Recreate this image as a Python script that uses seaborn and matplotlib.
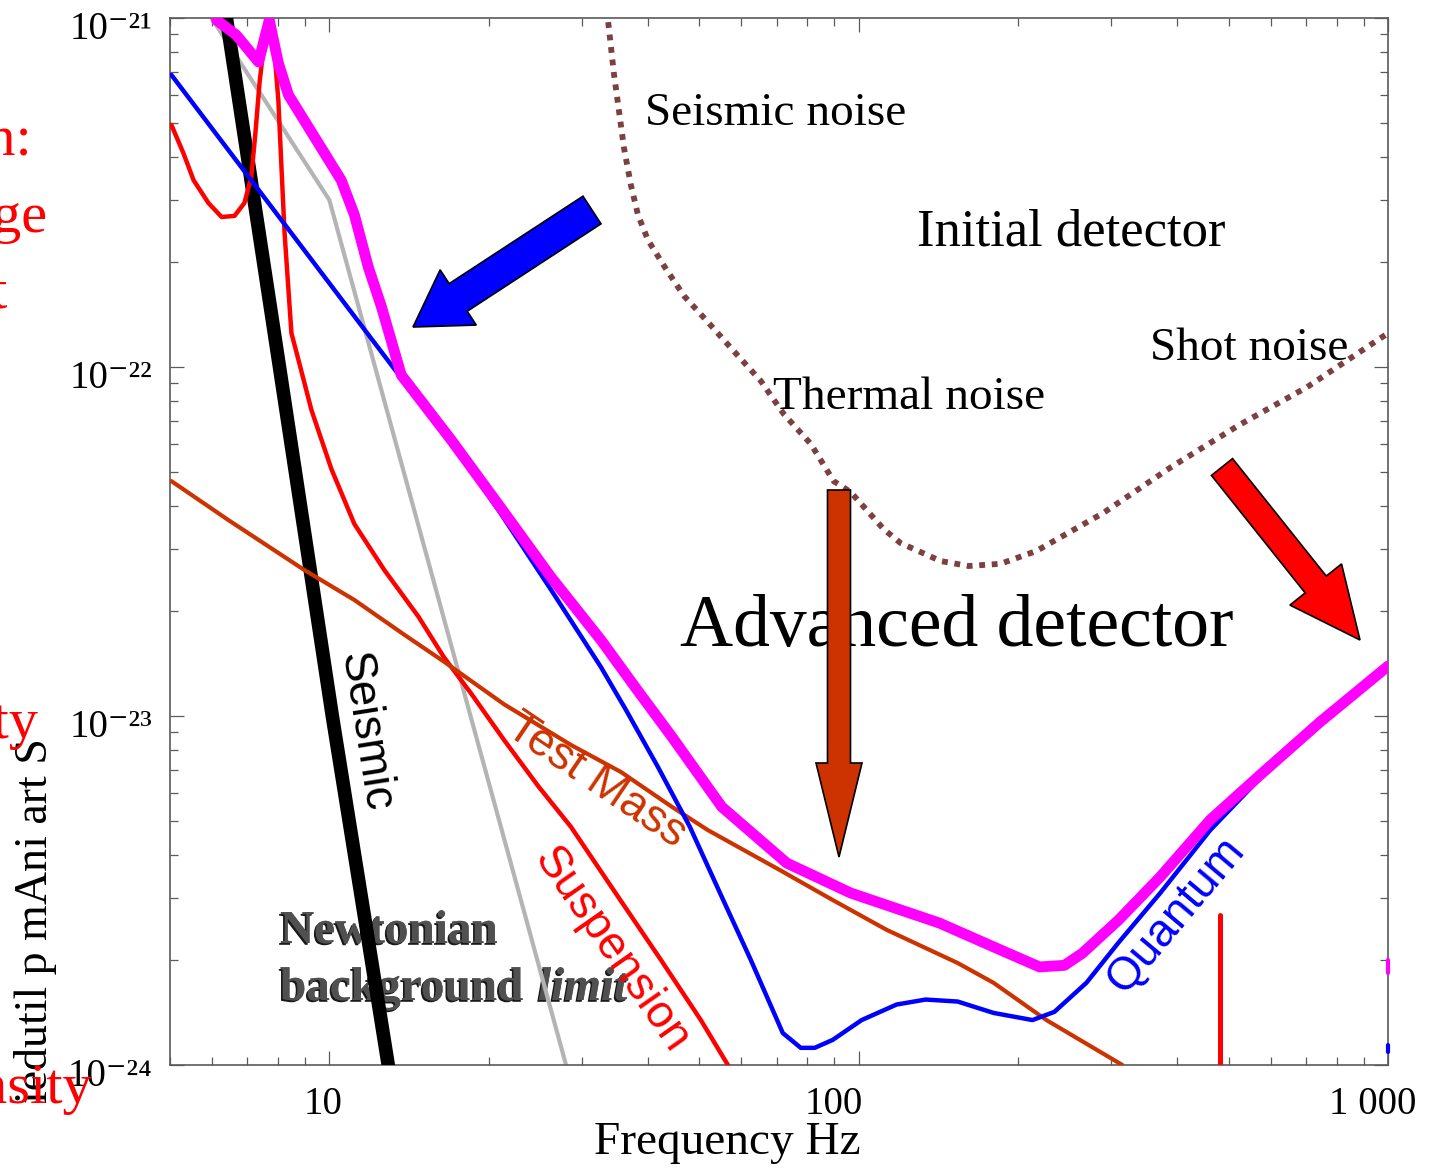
import matplotlib
matplotlib.use("Agg")
import matplotlib.pyplot as plt
import matplotlib.patheffects as pe
from matplotlib.patches import FancyArrow
from matplotlib.ticker import LogLocator, NullFormatter, FixedLocator, FixedFormatter
from matplotlib.transforms import ScaledTranslation
import numpy as np
import pandas as pd
import seaborn as sns

# ---------------- data (frequency in Hz, strain amplitude) ----------------
seismic_f = [6.39, 8.05, 10.13, 12.92]
seismic_h = [1.0e-21, 1.0e-22, 1.0e-23, 1.0e-24]

gray_f = [5.99, 10.0, 28.0]
gray_h = [1.0e-21, 3.01e-22, 1.0e-24]

suspension_f = [5.03, 5.30, 5.54, 5.91, 6.26, 6.62, 6.91, 7.12, 7.25, 7.38, 7.54, 7.67,
                7.87, 8.01, 8.12, 8.23, 8.48, 8.74, 9.25, 10.09, 11.15, 12.70, 14.72,
                16.48, 18.53, 21.39, 24.80, 28.61, 35.56, 42.31, 50.33, 57.35]
suspension_h = [4.94e-22, 4.10e-22, 3.43e-22, 2.95e-22, 2.69e-22, 2.71e-22, 2.95e-22,
                3.50e-22, 4.68e-22, 6.51e-22, 8.65e-22, 9.74e-22, 8.10e-22, 5.82e-22,
                3.74e-22, 2.42e-22, 1.25e-22, 1.05e-22, 7.53e-23, 5.10e-23, 3.55e-23,
                2.62e-23, 1.93e-23, 1.47e-23, 1.16e-23, 8.53e-24, 6.30e-24, 4.81e-24,
                2.95e-24, 2.00e-24, 1.345e-24, 0.968e-24]

testmass_f = [5.03, 6.45, 8.97, 11.15, 13.85, 16.48, 21.39, 28.61, 35.56, 44.39, 51.89,
              70.94, 89.3, 112.9, 153.8, 179.8, 226.3, 314.9]
testmass_h = [4.71e-23, 3.64e-23, 2.62e-23, 2.15e-23, 1.71e-23, 1.43e-23, 1.08e-23,
              8.26e-24, 6.91e-24, 5.49e-24, 4.71e-24, 3.62e-24, 2.97e-24, 2.44e-24,
              1.96e-24, 1.72e-24, 1.345e-24, 1.0e-24]

quantum_f = [5.03, 13.67, 16.99, 21.11, 26.23, 32.60, 36.35, 41.77, 47.99, 55.14, 62.55,
             71.88, 77.72, 82.60, 89.3, 101.3, 117.9, 133.8, 153.8, 179.8, 213.0, 234.3,
             269.3, 309.5, 371.3, 461.5, 573.5, 744.0, 1000.0]
quantum_h = [6.87e-22, 9.30e-23, 6.10e-23, 3.79e-23, 2.30e-23, 1.38e-23, 1.04e-23,
             7.14e-24, 4.81e-24, 3.03e-24, 2.00e-24, 1.235e-24, 1.12e-24, 1.12e-24,
             1.18e-24, 1.345e-24, 1.49e-24, 1.54e-24, 1.52e-24, 1.41e-24, 1.345e-24,
             1.42e-24, 1.72e-24, 2.24e-24, 3.11e-24, 4.71e-24, 6.64e-24, 9.49e-24, 1.37e-23]

total_f = [6.12, 6.67, 7.35, 7.70, 8.01, 8.37, 10.53, 11.15, 11.85, 12.54, 13.67, 16.99,
           21.11, 26.23, 32.60, 38.12, 44.39, 55.14, 73.14, 96.6, 142.2, 179.8, 219.6,
           244.7, 264.6, 309.5, 371.3, 461.5, 573.5, 744.0, 1000.0]
total_h = [9.87e-22, 8.94e-22, 7.48e-22, 9.87e-22, 7.43e-22, 6.02e-22, 3.43e-22,
           2.73e-22, 1.93e-22, 1.49e-22, 9.49e-23, 6.18e-23, 3.94e-23, 2.50e-23,
           1.65e-23, 1.19e-23, 8.71e-24, 5.49e-24, 3.79e-24, 3.11e-24, 2.55e-24,
           2.18e-24, 1.91e-24, 1.93e-24, 2.09e-24, 2.60e-24, 3.46e-24, 5.04e-24,
           6.78e-24, 9.61e-24, 1.39e-23]

initial_f = [33.17, 33.60, 34.49, 35.25, 36.03, 37.13, 38.28, 39.99, 42.87, 46.75, 51.89,
             58.10, 65.33, 72.20, 81.20, 89.69, 96.6, 111.5, 120.0, 142.8, 161.3, 185.3,
             216.6, 290.0, 389.5, 523.4, 703.4, 1000.0]
initial_h = [1.054e-21, 9.87e-22, 6.91e-22, 5.42e-22, 4.24e-22, 3.32e-22, 2.73e-22,
             2.31e-22, 1.95e-22, 1.60e-22, 1.345e-22, 1.11e-22, 9.12e-23, 7.33e-23,
             6.02e-23, 4.71e-23, 4.38e-23, 3.43e-23, 3.13e-23, 2.78e-23, 2.69e-23,
             2.73e-23, 2.97e-23, 3.82e-23, 5.17e-23, 6.82e-23, 8.76e-23, 1.25e-22]

spike_f = [481.0, 481.0]
spike_h = [2.69e-24, 1.0e-24]

stub_total_f = [1000.0, 1000.0]
stub_total_h = [1.835e-24, 2.0e-24]
stub_quantum_f = [1000.0, 1000.0]
stub_quantum_h = [1.089e-24, 1.141e-24]

x_ticks = [10, 100, 1000]
x_tick_labels = ["10", "100", "1 000"]
y_ticks = [1e-24, 1e-23, 1e-22, 1e-21]
y_tick_labels = ["10\u207b\u00b2\u2074", "10\u207b\u00b2\u00b3", "10\u207b\u00b2\u00b2",
                 "10\u207b\u00b2\u00b9"]

# ---------------- style ----------------
W, H = 1431, 1175
sns.set_theme(style="white")
plt.rcParams["font.family"] = ["Liberation Serif", "DejaVu Serif"]
plt.rcParams["text.color"] = "black"
plt.rcParams["axes.labelcolor"] = "black"
plt.rcParams["xtick.color"] = "black"
plt.rcParams["ytick.color"] = "black"

fig = plt.figure(figsize=(W / 100, H / 100), dpi=100)
fig.patch.set_facecolor("white")
ax = fig.add_axes([170 / W, 1 - 1065 / H, (1388 - 170) / W, (1065 - 18) / H])
ax.set_facecolor("white")
ax.set_xscale("log")
ax.set_yscale("log")


def curve(f, h, color, lw, z, **kw):
    df = pd.DataFrame({"Frequency": f, "Strain": h})
    sns.lineplot(data=df, x="Frequency", y="Strain", sort=False, estimator=None,
                 color=color, linewidth=lw, zorder=z, ax=ax, **kw)


curve(initial_f, initial_h, "#7d4040", 4.2, 2.5, linestyle=(0, (1, 1.15)), dash_capstyle="butt")
curve(gray_f, gray_h, "#b4b4b4", 3.0, 2)
curve(seismic_f, seismic_h, "black", 9.8, 3)
curve(suspension_f, suspension_h, "#ff0000", 3.2, 4, solid_joinstyle="round")
curve(testmass_f, testmass_h, "#cc3300", 3.0, 4.5, solid_joinstyle="round")
curve(quantum_f, quantum_h, "#0000ff", 3.2, 5, solid_joinstyle="round")
curve(total_f, total_h, "#ff00ff", 7.8, 6, solid_joinstyle="round", solid_capstyle="round")
curve(spike_f, spike_h, "#ff0000", 3.6, 4)
curve(stub_total_f, stub_total_h, "#ff00ff", 3.0, 6, clip_on=False)
curve(stub_quantum_f, stub_quantum_h, "#0000ff", 3.0, 6, clip_on=False)

ax.set_xlim(5, 1000)
ax.set_ylim(1e-24, 1e-21)

# ticks
ax.xaxis.set_major_locator(FixedLocator(x_ticks))
ax.xaxis.set_major_formatter(FixedFormatter(x_tick_labels))
ax.xaxis.set_minor_locator(LogLocator(base=10, subs=np.arange(2, 10), numticks=30))
ax.xaxis.set_minor_formatter(NullFormatter())
ax.yaxis.set_major_locator(FixedLocator(y_ticks))
ax.yaxis.set_major_formatter(FixedFormatter(y_tick_labels))
ax.yaxis.set_minor_locator(LogLocator(base=10, subs=np.arange(2, 10), numticks=30))
ax.yaxis.set_minor_formatter(NullFormatter())

spine_col = "#5a5a5a"
for s in ax.spines.values():
    s.set_visible(True)
    s.set_color(spine_col)
    s.set_linewidth(1.2)
ax.tick_params(axis="both", which="both", direction="in", bottom=True, left=True,
               top=True, right=True, color=spine_col, width=0.9)
ax.tick_params(which="major", length=10)
ax.tick_params(which="minor", length=5.5)
ax.tick_params(axis="x", which="major", labelsize=28, pad=15, labelcolor="black")
ax.tick_params(axis="y", which="major", labelsize=28, pad=13, labelcolor="black")

# shift tick labels like the reference
x_offsets = [-6, -25, -15]
for tick, dx in zip(ax.xaxis.get_major_ticks(), x_offsets):
    lab = tick.label1
    lab.set_transform(lab.get_transform() + ScaledTranslation(dx / 100, 0, fig.dpi_scale_trans))
for tick in ax.yaxis.get_major_ticks():
    lab = tick.label1
    lab.set_transform(lab.get_transform() + ScaledTranslation(0, -0.07, fig.dpi_scale_trans))

ax.set_xlabel("Frequency Hz", fontsize=34, color="black")
ax.xaxis.set_label_coords((727.5 - 170) / 1218, -0.0535)
ax.set_ylabel("iedutil p mAni art S", fontsize=33, color="black", rotation=90)
ax.yaxis.set_label_coords(-0.0928, 0.138)


def ftext(x, y, s, **kw):
    return ax.text(x / W, 1 - y / H, s, transform=fig.transFigure, clip_on=False, **kw)


# serif annotations
ftext(645, 125, "Seismic noise", fontsize=34, ha="left", va="baseline", zorder=7, color="black")
ftext(917, 245, "Initial detector", fontsize=38, ha="left", va="baseline", zorder=7, color="black")
ftext(1150, 360, "Shot noise", fontsize=34, ha="left", va="baseline", zorder=7, color="black")
ftext(773, 409, "Thermal noise", fontsize=34, ha="left", va="baseline", zorder=7, color="black")
ftext(680, 646, "Advanced detector", fontsize=53, ha="left", va="baseline", zorder=7, color="black")

# curve labels (sans)
sans = ["Liberation Sans", "DejaVu Sans"]
ftext(365, 732, "Seismic", family=sans, fontsize=33, color="black", rotation=-81,
      ha="center", va="center", rotation_mode="anchor", zorder=7)
ftext(596, 781, "Test Mass", family=sans, fontsize=33, color="#cc3300", rotation=-34,
      ha="center", va="center", rotation_mode="anchor", zorder=7)
ftext(612, 950, "Suspension", family=sans, fontsize=33, color="#ff0000", rotation=-55,
      ha="center", va="center", rotation_mode="anchor", zorder=7)
ftext(1176, 915, "Quantum", family=sans, fontsize=33, color="#0000ff", rotation=50,
      ha="center", va="center", rotation_mode="anchor", zorder=7)

# Newtonian background limit (shadowed, beneath the seismic line)
shadow = [pe.withSimplePatchShadow(offset=(-1.3, -1.3), shadow_rgbFace="black", alpha=0.9),
          pe.Normal()]
ftext(280, 943, "Newtonian", fontsize=34, fontweight="bold", color="#505050",
      ha="left", va="baseline", zorder=1, path_effects=shadow)
ftext(280, 1000, "background", fontsize=34, fontweight="bold", color="#505050",
      ha="left", va="baseline", zorder=1, path_effects=shadow)
ftext(538, 1000, "limit", fontsize=34, fontweight="bold", fontstyle="italic", color="#505050",
      ha="left", va="baseline", zorder=1, path_effects=shadow)

# red text fragments cut by the left edge
for x, y, s in [(32, 155, "Design:"), (47, 232, "Range"), (7, 308, "t"),
                (38, 738, "Sensitivity"), (92, 1103, "Density")]:
    fig.text(x / W, 1 - y / H, s, color="#ff0000", fontsize=42, ha="right", va="baseline")


# arrows (positions in inches on the figure)
def arrow(x0, y0, x1, y1, width, hw, hl, fc):
    a = FancyArrow(x0 / 100, (H - y0) / 100, (x1 - x0) / 100, -(y1 - y0) / 100,
                   width=width / 100, head_width=hw / 100, head_length=hl / 100,
                   length_includes_head=True, fc=fc, ec="black", lw=1.2,
                   transform=fig.dpi_scale_trans, clip_on=False, zorder=8)
    ax.add_patch(a)


arrow(592, 210, 413, 327, 33, 66, 54, "#0000ff")
arrow(1222, 467, 1360, 640, 27, 66, 71, "#ff0000")
arrow(839, 490, 839, 857, 23, 46, 94, "#cc3300")

fig.savefig("out.png", dpi=100, facecolor="white")
